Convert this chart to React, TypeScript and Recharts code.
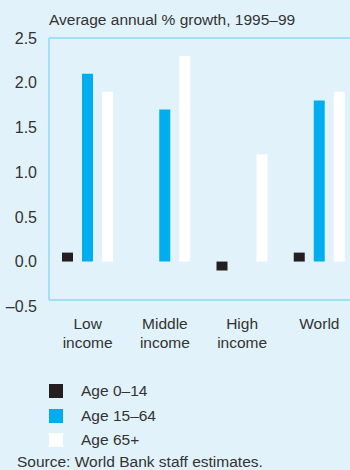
import React from 'react';
import { BarChart, Bar, XAxis, YAxis, ReferenceLine } from 'recharts';

// Average annual % growth, 1995-99, by age group
const categories = ['Low income', 'Middle income', 'High income', 'World'];
const age0to14 = [0.1, 0, -0.1, 0.1];
const age15to64 = [2.1, 1.7, 0, 1.8];
const age65plus = [1.9, 2.3, 1.2, 1.9];
const yTicks = [-0.5, 0, 0.5, 1.0, 1.5, 2.0, 2.5];

const series = [
  { key: 'young', name: 'Age 0–14', color: '#231F20', values: age0to14 },
  { key: 'working', name: 'Age 15–64', color: '#00AEEF', values: age15to64 },
  { key: 'old', name: 'Age 65+', color: '#FFFFFF', values: age65plus },
];

const data = categories.map((name, i) => ({
  name,
  young: age0to14[i],
  working: age15to64[i],
  old: age65plus[i],
}));

const FONT = '"Liberation Sans", Arial, sans-serif';
const TEXT = '#333333';
const BG = '#E1F2FA';
const FRAME = '#8ED8F5';
const FS = 15.5;

const CategoryTick = (props: any) => {
  const { x, y, payload } = props;
  const lines = String(payload.value).split(' ');
  return (
    <text x={x} y={y} textAnchor="middle" fill={TEXT} fontSize={FS} fontFamily={FONT}>
      {lines.map((l: string, i: number) => (
        <tspan key={i} x={x} dy={i === 0 ? 21 : 19}>
          {l}
        </tspan>
      ))}
    </text>
  );
};

const fmt = (v: number) => (v < 0 ? '–' + Math.abs(v).toFixed(1) : v.toFixed(1));

export default function App() {
  return (
    <div
      style={{
        position: 'absolute',
        left: 0,
        top: 0,
        width: 350,
        height: 470,
        background: BG,
        overflow: 'hidden',
        fontFamily: FONT,
        color: TEXT,
      }}
    >
      <div style={{ position: 'absolute', left: 49, top: 11, fontSize: FS, whiteSpace: 'nowrap' }}>
        Average annual % growth, 1995–99
      </div>
      <div style={{ position: 'absolute', left: 0, top: 0 }}>
        <BarChart
          width={358}
          height={360}
          data={data}
          margin={{ top: 38, right: 0, bottom: 0, left: 0 }}
          barSize={11}
          barGap={9}
        >
          <XAxis
            dataKey="name"
            axisLine={false}
            tickLine={false}
            height={60}
            interval={0}
            tick={<CategoryTick />}
          />
          <YAxis
            width={49}
            domain={[-0.43, 2.5]}
            ticks={yTicks}
            allowDataOverflow
            tickFormatter={fmt}
            tickLine={false}
            tickMargin={6}
            axisLine={{ stroke: FRAME, strokeWidth: 1.5 }}
            tick={{ fill: TEXT, fontSize: 16, fontFamily: FONT }}
          />
          <ReferenceLine y={2.5} stroke={FRAME} strokeWidth={1.5} />
          <ReferenceLine y={-0.43} stroke={FRAME} strokeWidth={1.5} />
          {series.map((s) => (
            <Bar key={s.key} dataKey={s.key} name={s.name} fill={s.color} isAnimationActive={false} />
          ))}
        </BarChart>
      </div>
      {series.map((s, i) => (
        <div key={s.key} style={{ position: 'absolute', left: 49, top: 384 + i * 24.5, height: 14, display: 'flex', alignItems: 'center' }}>
          <div style={{ width: 14, height: 14, background: s.color, flexShrink: 0 }} />
          <span style={{ marginLeft: 18, fontSize: FS, whiteSpace: 'nowrap' }}>{s.name}</span>
        </div>
      ))}
      <div style={{ position: 'absolute', left: 17, top: 453, fontSize: FS, whiteSpace: 'nowrap' }}>
        Source: World Bank staff estimates.
      </div>
    </div>
  );
}
